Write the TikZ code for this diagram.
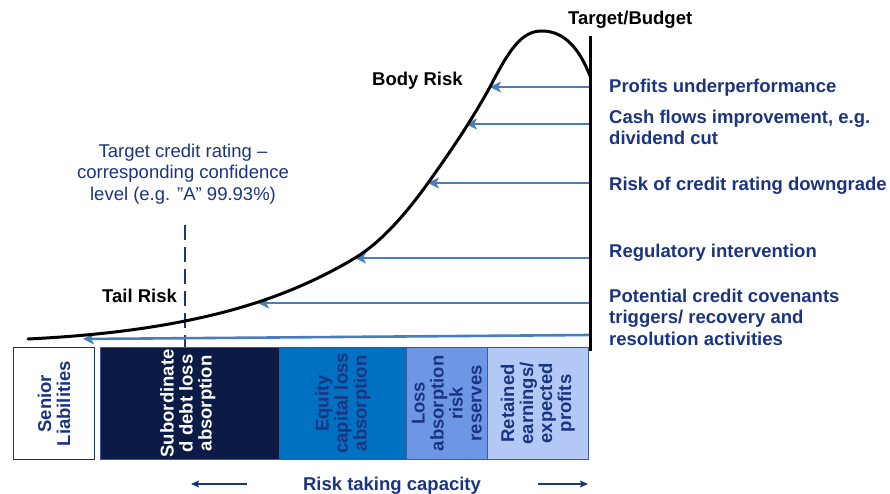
\documentclass[tikz,border=0pt]{standalone}
\usepackage{fontspec}
\setmainfont{Liberation Sans}
\usetikzlibrary{arrows.meta}
\definecolor{txtblue}{HTML}{1B3482}
\definecolor{arrblue}{HTML}{4A7EBB}
\definecolor{navybox}{HTML}{0B1B45}
\definecolor{eqblue}{HTML}{0070C0}
\definecolor{lossblue}{HTML}{6E96E6}
\definecolor{retblue}{HTML}{B4C8F5}
\definecolor{edgeblue}{HTML}{3A5A9C}
\begin{document}
\begin{tikzpicture}[x=1pt,y=-1pt,
  rtext/.style={font=\fontsize{18.5}{21.5}\selectfont\bfseries, text=txtblue, anchor=north west, inner sep=0pt, align=left},
  blk/.style={font=\fontsize{18.5}{21.5}\selectfont\bfseries, text=black, inner sep=0pt, anchor=base west},
  riskarrow/.style={arrblue, line width=2.6pt, -{Stealth[length=11pt,width=11pt,inset=3pt]}},
  caparrow/.style={txtblue, line width=1.5pt, -{Stealth[length=8pt,width=7pt,inset=1.5pt]}},
  boxbase/.style={draw=edgeblue, line width=0.8pt, anchor=north west, inner sep=0pt, minimum height=112pt},
  boxtext/.style={rotate=90, font=\fontsize{18.5}{19}\selectfont\bfseries, align=center, inner sep=0pt},
]
\useasboundingbox (0,0) rectangle (890,494);

% boxes
\node[boxbase, draw=txtblue, line width=1.2pt, fill=white, minimum width=81pt] (sen) at (13,347) {};
\node[boxbase, fill=navybox, minimum width=179pt] (sub) at (100,347) {};
\node[boxbase, fill=eqblue, minimum width=127pt] (eq) at (279,347) {};
\node[boxbase, fill=lossblue, minimum width=81pt] (loss) at (406,347) {};
\node[boxbase, fill=retblue, minimum width=101pt] (ret) at (487,347) {};

\node[boxtext, text=txtblue] (sentxt) at (sen.center) {Senior\\Liabilities};
\node[boxtext, text=white] (subtxt) at ([xshift=-2pt]sub.center) {Subordinate\\d debt loss\\absorption};
\node[boxtext, text=txtblue] (eqtxt) at (eq.center) {Equity\\capital loss\\absorption};
\node[boxtext, text=txtblue] (losstxt) at (loss.center) {Loss\\absorption\\risk\\reserves};
\node[boxtext, text=txtblue] (rettxt) at (ret.center) {Retained\\earnings/\\expected\\profits};

% dashed target line
\coordinate (dtop) at (185,225);
\coordinate (dbot) at (185,347);
\draw[txtblue, line width=2pt, dash pattern=on 15pt off 7pt] (dtop) -- (dbot);

% arrows from target line to curve
\coordinate (s1) at (590,87);  \coordinate (t1) at (490,87);
\coordinate (s2) at (590,124); \coordinate (t2) at (466,124);
\coordinate (s3) at (590,183); \coordinate (t3) at (428,183);
\coordinate (s4) at (590,258); \coordinate (t4) at (355,258);
\coordinate (s5) at (590,303); \coordinate (t5) at (258,303);
\coordinate (s6) at (590,335); \coordinate (t6) at (83,339);
\foreach \i in {1,...,6} {\draw[riskarrow] (s\i) -- (t\i);}

% distribution curve
\coordinate (c0) at (28,339);
\coordinate (c1) at (185,321);
\coordinate (c5) at (542,31);
\coordinate (c6) at (590,76);
\draw[line width=3pt, line cap=round]
  (c0) .. controls (80,336.4) and (133,331.4) .. (c1)
       .. controls (241.7,309.7) and (298.3,292) .. (t4)
       .. controls (379.3,243.4) and (403.7,217) .. (t3)
       .. controls (448.7,154) and (469.3,124.3) .. (t1)
       .. controls (510,48) and (522,31) .. (c5)
       .. controls (565,31) and (580,50) .. (c6);

% target / budget line
\coordinate (vt) at (590,36);
\coordinate (vb) at (590,351);
\draw[line width=3pt] (vt) -- (vb);

% labels
\node[blk] (tb) at (568,25) {Target/Budget};
\node[blk] (body) at (372,86) {Body Risk};
\node[blk] (tail) at (102,302) {Tail Risk};
\node[font=\fontsize{18.5}{21.5}\selectfont, text=txtblue, align=center, anchor=north, inner sep=0pt] (tcr) at (183,143.5)
  {Target credit rating –\\corresponding confidence\\level (e.g. ”A” 99.93\%)};

\node[rtext] (r1) at (609,78.5) {Profits underperformance};
\node[rtext] (r2) at (609,109.5) {Cash flows improvement, e.g.\\dividend cut};
\node[rtext] (r3) at (609,176.5) {Risk of credit rating downgrade};
\node[rtext] (r4) at (609,243.5) {Regulatory intervention};
\node[rtext] (r5) at (609,288.5) {Potential credit covenants\\triggers/ recovery and\\resolution activities};

% risk taking capacity
\node[blk, text=txtblue, anchor=base] (rtc) at (392,490) {Risk taking capacity};
\coordinate (la) at (247,484); \coordinate (lb) at (191,484);
\coordinate (ra) at (538,484); \coordinate (rb) at (588,484);
\draw[caparrow] (la) -- (lb);
\draw[caparrow] (ra) -- (rb);
\end{tikzpicture}
\end{document}
